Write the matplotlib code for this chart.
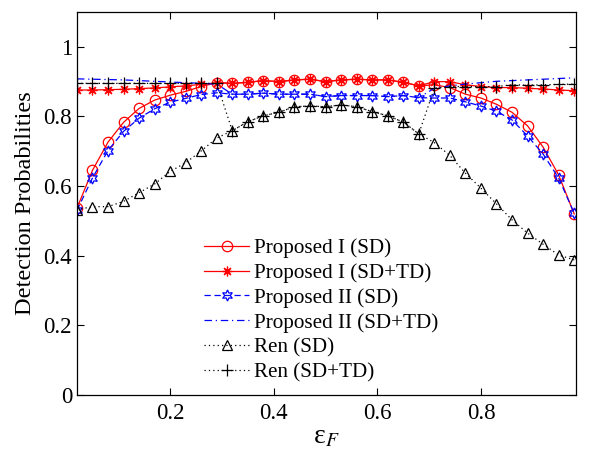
import numpy as np
import matplotlib
matplotlib.use("Agg")
import matplotlib.pyplot as plt

plt.rcParams['font.family'] = ['Liberation Serif', 'DejaVu Serif']
plt.rcParams['mathtext.fontset'] = 'stix'

eps_f = [0.02, 0.05, 0.08, 0.11, 0.14, 0.17, 0.20, 0.23, 0.26, 0.29, 0.32,
         0.35, 0.38, 0.41, 0.44, 0.47, 0.50, 0.53, 0.56, 0.59, 0.62, 0.65,
         0.68, 0.71, 0.74, 0.77, 0.80, 0.83, 0.86, 0.89, 0.92, 0.95, 0.98]

prop1_sd = [0.536, 0.645, 0.726, 0.783, 0.823, 0.847, 0.861, 0.872, 0.886, 0.897, 0.895,
            0.898, 0.903, 0.900, 0.905, 0.907, 0.900, 0.905, 0.907, 0.905, 0.905, 0.898,
            0.888, 0.891, 0.883, 0.864, 0.853, 0.835, 0.812, 0.773, 0.712, 0.632, 0.520]

prop1_sdtd = [0.876, 0.876, 0.877, 0.878, 0.880, 0.882, 0.885, 0.888, 0.892, 0.897, 0.895,
              0.898, 0.903, 0.900, 0.905, 0.907, 0.900, 0.905, 0.907, 0.905, 0.905, 0.898,
              0.888, 0.900, 0.900, 0.891, 0.886, 0.883, 0.883, 0.881, 0.879, 0.876, 0.874]

prop2_sd = [0.530, 0.623, 0.702, 0.757, 0.795, 0.822, 0.841, 0.852, 0.863, 0.868, 0.864,
            0.864, 0.867, 0.864, 0.864, 0.864, 0.857, 0.860, 0.860, 0.860, 0.857, 0.860,
            0.854, 0.853, 0.853, 0.842, 0.830, 0.815, 0.790, 0.744, 0.692, 0.623, 0.522]

prop2_sdtd = [0.908, 0.907, 0.906, 0.905, 0.903, 0.901, 0.899, 0.897, 0.895, 0.893, 0.864,
              0.864, 0.867, 0.864, 0.864, 0.864, 0.857, 0.860, 0.860, 0.860, 0.857, 0.860,
              0.854, 0.881, 0.888, 0.893, 0.897, 0.901, 0.903, 0.905, 0.907, 0.909, 0.911]

ren_sd = [0.532, 0.541, 0.541, 0.556, 0.581, 0.606, 0.642, 0.667, 0.701, 0.738, 0.759,
          0.785, 0.802, 0.812, 0.828, 0.830, 0.828, 0.833, 0.828, 0.814, 0.802, 0.784,
          0.750, 0.725, 0.688, 0.637, 0.594, 0.549, 0.503, 0.465, 0.433, 0.402, 0.388]

ren_sdtd = [0.895, 0.895, 0.895, 0.895, 0.895, 0.895, 0.895, 0.895, 0.895, 0.895, 0.759,
            0.785, 0.802, 0.812, 0.828, 0.830, 0.828, 0.833, 0.828, 0.814, 0.802, 0.784,
            0.750, 0.881, 0.886, 0.886, 0.886, 0.886, 0.891, 0.890, 0.891, 0.892, 0.893]

labels = ['Proposed I (SD)', 'Proposed I (SD+TD)', 'Proposed II (SD)',
          'Proposed II (SD+TD)', 'Ren (SD)', 'Ren (SD+TD)']
xticks = [0.2, 0.4, 0.6, 0.8]
yticks = [0, 0.2, 0.4, 0.6, 0.8, 1]
yticklabels = ['0', '0.2', '0.4', '0.6', '0.8', '1']

fig = plt.figure(figsize=(5.96, 4.57), dpi=100)
ax = fig.add_axes([0.129, 0.1357, 0.837, 0.838])

lw = 0.9
ax.plot(eps_f, prop1_sd, color='red', ls='-', lw=lw, marker='o', ms=7.5,
        mfc='none', mec='red', mew=0.9, label=labels[0])
ax.plot(eps_f, prop1_sdtd, color='red', ls='-', lw=lw, marker=(8, 2, 0), ms=7,
        mec='red', mew=0.9, label=labels[1])
ax.plot(eps_f, prop2_sd, color='blue', ls=(0, (5, 3)), lw=lw, marker=(6, 1, 0), ms=8,
        mfc='none', mec='blue', mew=0.9, label=labels[2])
ax.plot(eps_f, prop2_sdtd, color='blue', ls=(0, (6, 3, 1, 3)), lw=lw, label=labels[3])
ax.plot(eps_f, ren_sd, color='black', ls=(0, (1, 2.5)), lw=lw, marker='^', ms=7.5,
        mfc='none', mec='black', mew=0.9, label=labels[4])
ax.plot(eps_f, ren_sdtd, color='black', ls=(0, (1, 2.5)), lw=lw, marker='+', ms=9,
        mec='black', mew=0.9, label=labels[5])

ax.set_xlim(0.02, 0.983)
ax.set_ylim(0, 1.1)
ax.set_xticks(xticks)
ax.set_xticklabels([f'{t:g}' for t in xticks])
ax.set_yticks(yticks)
ax.set_yticklabels(yticklabels)
ax.tick_params(direction='in', top=True, right=True, labelsize=16.5, length=5, width=0.8)
ax.tick_params(axis='y', pad=3.5)
ax.tick_params(axis='x', pad=6)
for s in ax.spines.values():
    s.set_linewidth(0.9)

ax.set_ylabel('Detection Probabilities', fontsize=17.5, labelpad=5)
ax.set_xlabel('ε$_{F}$', fontsize=20, labelpad=0)

leg = ax.legend(loc='center', bbox_to_anchor=(0.49, 0.221), frameon=False,
                fontsize=15.2, handlelength=2.1, handletextpad=0.25, labelspacing=0.24,
                borderpad=0.2)

fig.savefig('out.png', dpi=100)
